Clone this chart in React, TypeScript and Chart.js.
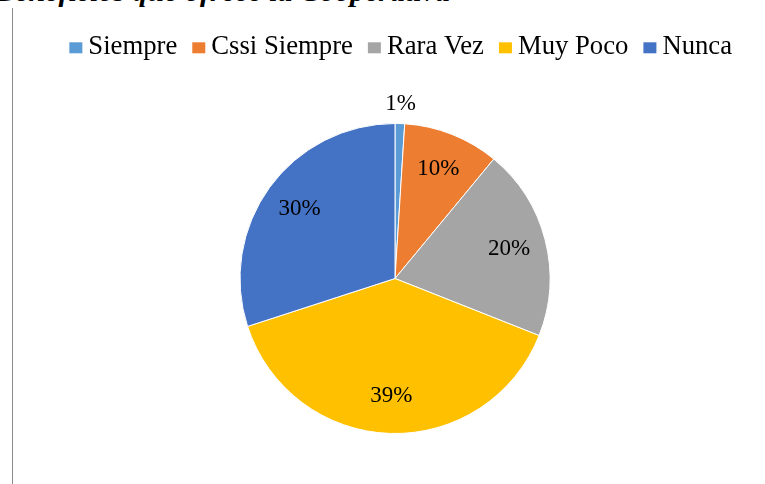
import React, { useEffect, useRef } from "react";
import { Chart, registerables } from "chart.js";

Chart.register(...registerables);

const categories = ["Siempre", "Cssi Siempre", "Rara Vez", "Muy Poco", "Nunca"];
const values = [1, 10, 20, 39, 30];
const colors = ["#5B9BD5", "#ED7D31", "#A5A5A5", "#FFC000", "#4472C4"];
const titleText = "Beneficios que ofrece la Cooperativa";

const SERIF = "'Liberation Serif', 'Times New Roman', serif";

const labelPlugin = {
  id: "sliceLabels",
  afterDatasetsDraw(chart: any) {
    const ctx = chart.ctx;
    const meta = chart.getDatasetMeta(0);
    ctx.save();
    ctx.font = `23px ${SERIF}`;
    ctx.fillStyle = "#000";
    ctx.textAlign = "center";
    ctx.textBaseline = "middle";
    meta.data.forEach((arc: any, i: number) => {
      const { x, y, startAngle, endAngle, outerRadius } = arc.getProps(
        ["x", "y", "startAngle", "endAngle", "outerRadius"],
        true
      );
      const mid = (startAngle + endAngle) / 2;
      const v = values[i];
      const r = v < 5 ? outerRadius + 20 : outerRadius * 0.76;
      ctx.fillText(`${v}%`, x + Math.cos(mid) * r, y + Math.sin(mid) * r);
    });
    ctx.restore();
  },
};

// Legend drawn on the chart canvas with Office-like spacing
const legendPlugin = {
  id: "officeLegend",
  afterDraw(chart: any) {
    const ctx = chart.ctx;
    const boxW = 13;
    const boxH = 11;
    const gapText = 6;
    const gapItem = 15;
    const centerX = 400.7;
    const baseline = 54;
    ctx.save();
    ctx.font = `26.7px ${SERIF}`;
    const widths = categories.map((c) => ctx.measureText(c).width);
    const total =
      widths.reduce((a, b) => a + b, 0) +
      categories.length * (boxW + gapText) +
      (categories.length - 1) * gapItem;
    let x = centerX - total / 2;
    ctx.textBaseline = "alphabetic";
    ctx.textAlign = "left";
    categories.forEach((c, i) => {
      ctx.fillStyle = colors[i];
      ctx.fillRect(x, 42.3, boxW, boxH);
      x += boxW + gapText;
      ctx.fillStyle = "#000";
      ctx.fillText(c, x, baseline);
      x += widths[i] + gapItem;
    });
    ctx.restore();
  },
};

export default function App() {
  const ref = useRef<HTMLCanvasElement | null>(null);
  useEffect(() => {
    if (!ref.current) return;
    const chart = new Chart(ref.current, {
      type: "pie",
      data: {
        labels: categories,
        datasets: [
          {
            data: values,
            backgroundColor: colors,
            borderColor: "#ffffff",
            borderWidth: 1,
            radius: 155,
          } as any,
        ],
      },
      options: {
        animation: false,
        responsive: true,
        maintainAspectRatio: false,
        layout: { padding: { left: 25, right: 0, top: 73, bottom: 0 } },
        plugins: {
          tooltip: { enabled: false },
          legend: { display: false },
        },
      },
      plugins: [labelPlugin, legendPlugin],
    });
    return () => chart.destroy();
  }, []);

  return (
    <div style={{ position: "fixed", left: 0, top: 0, width: 765, height: 484, background: "#fff", overflow: "hidden" }}>
      <div
        style={{
          position: "absolute",
          right: 315,
          top: -24,
          font: `italic bold 30px ${SERIF}`,
          lineHeight: "30px",
          whiteSpace: "nowrap",
          color: "#000",
        }}
      >
        {titleText}
      </div>
      <div style={{ position: "absolute", left: 12, top: 8, width: 1, height: 476, background: "#8c8c8c" }} />
      <canvas ref={ref} style={{ position: "absolute", left: 0, top: 0, width: 765, height: 484 }} />
    </div>
  );
}
